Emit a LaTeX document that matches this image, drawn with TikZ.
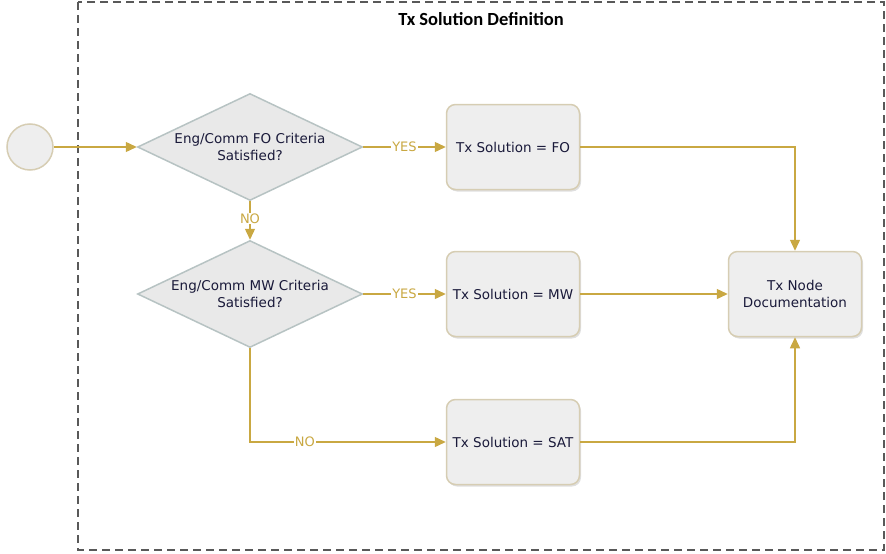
\documentclass[tikz,border=0pt]{standalone}
\usepackage{fontspec}
\setmainfont{DejaVu Sans}
\newfontfamily\titlefont{Carlito}
\usetikzlibrary{shapes.geometric,arrows.meta,shadows}
\definecolor{gold}{HTML}{C9A842}
\definecolor{boxfill}{HTML}{EEEEEE}
\definecolor{boxline}{HTML}{D6CDB3}
\definecolor{diafill}{HTML}{E9E9E9}
\definecolor{dialine}{HTML}{B7C3C3}
\definecolor{txt}{HTML}{1A1A3A}
\begin{document}
\begin{tikzpicture}[x=1pt,y=-1pt,
  every node/.style={font=\fontsize{13.5}{17}\selectfont, text=txt},
  procbox/.style={draw=boxline, line width=1.5pt, fill=boxfill, rounded corners=9pt,
    minimum width=133pt, minimum height=85pt, align=center, inner sep=0pt,
    drop shadow={shadow xshift=1.5pt, shadow yshift=-2pt, opacity=0.25}},
  decision/.style={diamond, aspect=2.1, draw=dialine, line width=1.5pt, fill=diafill,
    minimum width=225pt, minimum height=107pt, align=center, inner sep=0pt},
  startev/.style={circle, draw=boxline, line width=1.5pt, fill=boxfill, minimum size=46pt, inner sep=0pt},
  flow/.style={draw=gold, line width=1.4pt, -{Triangle[length=11pt,width=10pt]}},
  lbl/.style={fill=white, text=gold, inner sep=1pt, font=\fontsize{13}{15}\selectfont}
]
\useasboundingbox (0,0) rectangle (886,554);
\draw[dash pattern=on 8pt off 5pt, line width=1.5pt, draw=black!65] (78,2) rectangle (884,550);
\node[font=\titlefont\bfseries\fontsize{18.5}{21}\selectfont, text=black] (title) at (481,19) {Tx Solution Definition};

\node[startev] (start) at (30,147) {};
\node[decision] (d1) at (250,147) {Eng/Comm FO Criteria\\Satisfied?};
\node[decision] (d2) at (250,294) {Eng/Comm MW Criteria\\Satisfied?};
\node[procbox] (fo) at (513,147) {Tx Solution = FO};
\node[procbox] (mw) at (513,294) {Tx Solution = MW};
\node[procbox] (sat) at (513,442) {Tx Solution = SAT};
\node[procbox] (doc) at (795,294) {Tx Node\\Documentation};

\draw[flow] (start) -- (d1);
\draw[flow] (d1) -- node[lbl, pos=0.5]{YES} (fo);
\draw[flow] (d1) -- node[lbl, pos=0.45]{NO} (d2);
\draw[flow] (d2) -- node[lbl, pos=0.5]{YES} (mw);
\draw[flow] (d2.south) |- node[lbl, pos=0.64]{NO} (sat);
\draw[flow] (fo) -| (doc);
\draw[flow] (mw) -- (doc);
\draw[flow] (sat) -| (doc);
\end{tikzpicture}
\end{document}
